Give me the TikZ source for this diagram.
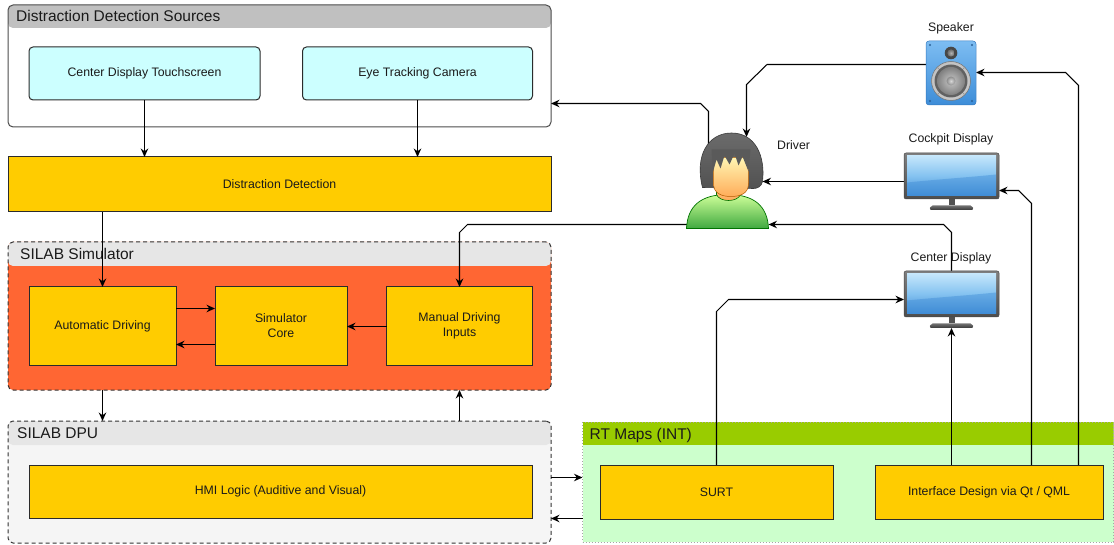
\documentclass[tikz,border=0pt]{standalone}
\usepackage{fontspec}
\setmainfont{Liberation Sans}
\usetikzlibrary{arrows.meta,calc}

\definecolor{boxyellow}{HTML}{FFCC00}
\definecolor{boxcyan}{HTML}{CCFFFF}
\definecolor{simred}{HTML}{FF6633}
\definecolor{hdrgray}{HTML}{C0C0C0}
\definecolor{hdrlight}{HTML}{E6E6E6}
\definecolor{dpubg}{HTML}{F5F5F5}
\definecolor{rtgreen}{HTML}{99CC00}
\definecolor{rtbg}{HTML}{CCFFCC}
\definecolor{edgegray}{HTML}{2B2B2B}
\definecolor{txt}{HTML}{1A1A1A}
\definecolor{hair}{HTML}{5A5A5A}
\definecolor{hairline}{HTML}{3A3A3A}
\definecolor{spktop}{HTML}{7DBDF2}
\definecolor{spkbot}{HTML}{3D8DD8}
\definecolor{spkrim}{HTML}{3478BE}
\definecolor{scrtop}{HTML}{C4E6FB}
\definecolor{scrmid}{HTML}{84C2F0}
\definecolor{scrbot}{HTML}{3F8CD6}

% monitor icon centred on a named node
\newcommand{\monitoricon}[1]{%
  \begin{scope}[shift={(#1.center)}]
    \fill[black!68] (-3,17) rectangle (3,24);
    \shade[top color=black!55, bottom color=black!78, rounded corners=2]
      (-22,28.5) -- (-21,24) -- (21,24) -- (22,28.5) -- cycle;
    \shade[top color=black!50, bottom color=black!70, draw=black!72, line width=0.5, rounded corners=2]
      (-47.5,-28.5) rectangle (47.5,17.5);
    \shade[top color=scrtop, bottom color=scrbot, middle color=scrmid]
      (-44.5,-25.5) rectangle (44.5,14.5);
    \fill[scrbot, opacity=0.45]
      (-44.5,1) .. controls (-15,-2) and (15,-4) .. (44.5,-7) -- (44.5,14.5) -- (-44.5,14.5) -- cycle;
  \end{scope}}

% loudspeaker icon centred on a named node
\newcommand{\speakericon}[1]{%
  \begin{scope}[shift={(#1.center)}]
    \shade[top color=spktop, bottom color=spkbot, draw=spkrim, line width=0.5, rounded corners=3]
      (-25,-32) rectangle (25,32);
    \foreach \sx/\sy in {-21/-28,21/-28,-21/28,21/28}
      \fill[spkrim!80!black] (\sx,\sy) circle (1.1);
    \fill[black!72] (0,-20) circle (6.3);
    \shade[inner color=black!30, outer color=black!58] (0,-20) circle (3.6);
    \shade[inner color=white, outer color=black!25, draw=black!55, line width=0.5] (0,8) circle (19.5);
    \fill[black!62] (0,8) circle (16.5);
    \shade[inner color=black!22, outer color=black!50] (0,8) circle (14);
    \shade[inner color=black!15, outer color=black!45] (0,8) circle (4.5);
    \foreach \a in {45,135,225,315}
      \fill[black!40] ($(0,8)+(\a:17.8)$) circle (0.8);
  \end{scope}}

% person icon centred on a named node
\newcommand{\personicon}[1]{%
  \begin{scope}[shift={(#1.center)}]
    % back hair
    \shade[top color=black!58, bottom color=black!68, draw=hairline, line width=0.6]
      (-25,6) .. controls (-33,-25) and (-20,-48.5) .. (4,-48.5)
      .. controls (28,-48.5) and (38,-25) .. (35,0)
      .. controls (34,5) and (30,7) .. (26,7) -- cycle;
    % shoulders
    \shade[top color=green!30!lime!40!white, bottom color=green!55!black!75, draw=green!45!black, line width=0.7]
      (-41,47) .. controls (-40,24) and (-26,13) .. (0,13)
      .. controls (26,13) and (40,24) .. (41,47) -- cycle;
    % neck
    \shade[top color=orange!45, bottom color=orange!70, draw=green!45!black, line width=0.6]
      (-11,6) -- (-11,13) .. controls (-8,21) and (10,21) .. (13,13) -- (13,6) -- cycle;
    % face
    \shade[top color=orange!25!yellow!30, bottom color=orange!65, draw=orange!70!black, line width=0.5]
      (-14,-24) -- (-14,2) .. controls (-14,12) and (-6,15) .. (3.5,15)
      .. controls (13,15) and (21,12) .. (21,2) -- (21,-24) -- cycle;
    % fringe
    \fill[hair]
      (-16,-32) -- (-15,-8) -- (-11,-22) -- (-7,-13) -- (-3,-26) -- (2,-17)
      -- (7,-28) -- (11,-16) -- (15,-25) -- (21,-10) -- (23,-32) -- cycle;
  \end{scope}}

\begin{document}
\begin{tikzpicture}[x=1pt,y=-1pt,
  box/.style={draw=edgegray, line width=1pt, inner sep=0pt, outer sep=0pt,
    font=\fontsize{12.3}{15}\selectfont, text=txt, align=center},
  ybox/.style={box, fill=boxyellow},
  cbox/.style={box, fill=boxcyan, rounded corners=4pt},
  group/.style={inner sep=0pt, outer sep=0pt, line width=1pt},
  hdr/.style 2 args={path picture={\fill[#1] (path picture bounding box.north west)
    rectangle ([yshift=-#2]path picture bounding box.north east);}},
  hdrtext/.style={anchor=base west, inner sep=0pt, font=\fontsize{15.5}{18}\selectfont, text=txt},
  icontext/.style={inner sep=0pt, font=\fontsize{12.3}{15}\selectfont, text=txt},
  icon/.style={inner sep=0pt, outer sep=0pt},
  arr/.style={-{Stealth[length=8.5pt,width=7.5pt,inset=2.8pt]}, line width=1.05pt, draw=black},
]
\useasboundingbox (0,0) rectangle (1114,545);

% ---- containers ----
\node[group, draw=black!70, rounded corners=5pt, fill=white, hdr={hdrgray}{23pt},
  minimum width=543pt, minimum height=122pt] (dds) at (279.5,66) {};
\node[hdrtext] (ddsT) at ($(dds.north west)+(8,17)$) {Distraction Detection Sources};

\node[group, draw=black!80, dashed, dash pattern=on 4pt off 3pt, rounded corners=5pt, fill=simred,
  hdr={hdrlight}{24pt}, minimum width=543pt, minimum height=148pt] (sim) at (279.5,316) {};
\node[hdrtext] (simT) at ($(sim.north west)+(12,17.5)$) {SILAB Simulator};

\node[group, draw=black!80, dashed, dash pattern=on 4pt off 3pt, rounded corners=5pt, fill=dpubg,
  hdr={hdrlight}{24pt}, minimum width=543pt, minimum height=122pt] (dpu) at (279.5,482) {};
\node[hdrtext] (dpuT) at ($(dpu.north west)+(9,17.5)$) {SILAB DPU};

\node[group, draw=black!35, dash pattern=on 1pt off 2pt, fill=rtbg,
  hdr={rtgreen}{23pt}, minimum width=531pt, minimum height=120pt] (rt) at (848,482) {};
\node[hdrtext] (rtT) at ($(rt.north west)+(7,17)$) {RT Maps (INT)};

% ---- process boxes ----
\node[cbox, minimum width=231pt, minimum height=53pt] (cdt) at (144.5,73.5) {Center Display Touchscreen};
\node[cbox, minimum width=230pt, minimum height=53pt] (etc) at (417.5,73.5) {Eye Tracking Camera};
\node[ybox, minimum width=543pt, minimum height=55pt] (dd) at (279.5,184.5) {Distraction Detection};

\node[ybox, minimum width=147pt, minimum height=78pt] (ad) at (102.5,326) {Automatic Driving};
\node[ybox, minimum width=132pt, minimum height=78pt] (sc) at (281,326) {Simulator\\Core};
\node[ybox, minimum width=146pt, minimum height=78pt] (mdi) at (459.5,326) {Manual Driving\\Inputs};

\node[ybox, minimum width=503pt, minimum height=53pt] (hmi) at (280.5,491.5) {HMI Logic (Auditive and Visual)};
\node[ybox, minimum width=233pt, minimum height=54pt] (surt) at (716.5,492) {SURT};
\node[ybox, minimum width=228pt, minimum height=54pt] (ifd) at (989,492) {Interface Design via Qt / QML};

% ---- icon placeholders ----
\node[icon, minimum width=50pt, minimum height=64pt] (spk) at (951,73) {};
\node[icon, minimum width=95pt, minimum height=57pt] (cpd) at (951.5,181.5) {};
\node[icon, minimum width=95pt, minimum height=57pt] (cnd) at (951.5,299.5) {};
\node[icon, minimum width=82pt, minimum height=97pt] (drv) at (727.5,181.5) {};

% ---- connectors ----
\draw[arr] (cdt.south) -- (cdt.south |- dd.north);
\draw[arr] (etc.south) -- (etc.south |- dd.north);
\draw[arr] (ad.north |- dd.south) -- (ad.north);
\draw[arr] ([yshift=17.5pt]ad.east) -- ([yshift=17.5pt]sc.west);
\draw[arr] ([yshift=-18.5pt]sc.west) -- ([yshift=-18.5pt]ad.east);
\draw[arr] ([yshift=-0.5pt]mdi.west) -- ([yshift=-0.5pt]sc.east);
\draw[arr] (ad.south |- sim.south) -- (ad.south |- dpu.north);
\draw[arr] (mdi.south |- dpu.north) -- (mdi.south |- sim.south);
\draw[arr] ([yshift=4.5pt]dpu.east) -- ([yshift=4.5pt]rt.west);
\draw[arr] ([yshift=-36.5pt]rt.west) -- ([yshift=-36.5pt]dpu.east);

\draw[arr] ([xshift=-19pt,yshift=-12pt]drv.north) -- (708.5,111.5) -- (700.5,103.5) -- ([yshift=-37.5pt]dds.east);
\draw[arr] ([yshift=8.5pt]spk.west) -- (767,64.5) -- (746.5,84.5) -- ([xshift=19pt,yshift=-4pt]drv.north);
\draw[arr] (cpd.west) -- ([xshift=-6pt]drv.east);
\draw[arr] (cnd.north) -- (951.5,232.5) -- (943.5,224.5) -- ([yshift=-43pt]drv.east);
\draw[arr] ([yshift=-43pt,xshift=4pt]drv.west) -- (467.5,224.5) -- (459.5,232.5) -- (mdi.north);
\draw[arr] (surt.north) -- (716.5,311.5) -- (728.5,299.5) -- (cnd.west);
\draw[arr] (cnd.south |- ifd.north) -- (cnd.south);
\draw[arr] ([xshift=42.5pt]ifd.north) -- (1031.5,203.5) -- (1018.5,190.5) -- ([yshift=-9pt]cpd.east);
\draw[arr] ([xshift=89.5pt]ifd.north) -- (1078.5,85.5) -- (1065.5,72.5) -- ([yshift=0.5pt]spk.east);

% ---- icons ----
\speakericon{spk}
\monitoricon{cpd}
\monitoricon{cnd}
\personicon{drv}

% ---- icon labels ----
\node[icontext] (spkL) at (951,28) {Speaker};
\node[icontext] (cpdL) at (951,139.5) {Cockpit Display};
\node[icontext] (cndL) at (951,258) {Center Display};
\node[icontext, anchor=west] (drvL) at (777,145.5) {Driver};
\end{tikzpicture}
\end{document}
